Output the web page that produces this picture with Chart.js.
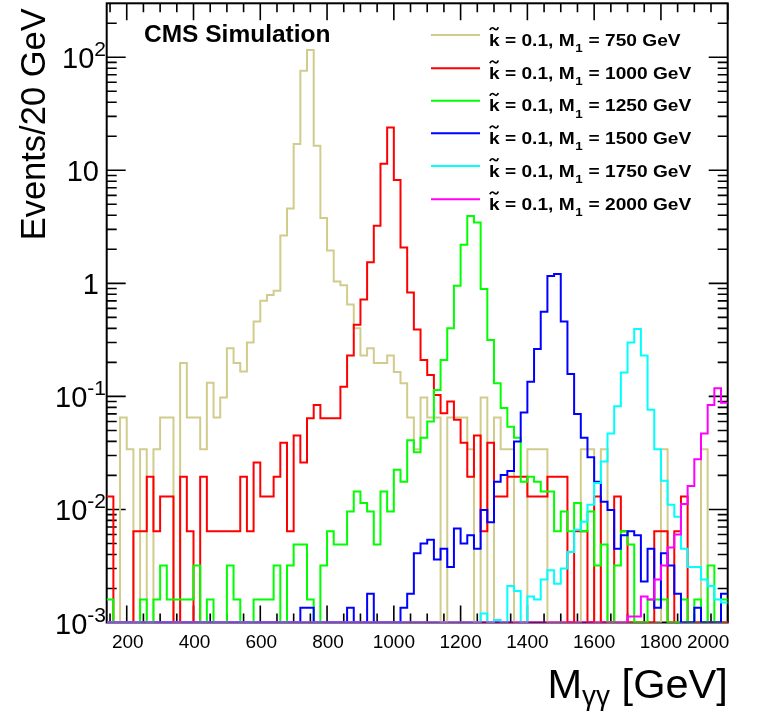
<!DOCTYPE html>
<html><head><meta charset="utf-8">
<script src="https://cdn.jsdelivr.net/npm/chart.js@4.4.0/dist/chart.umd.min.js"></script>
<style>html,body{margin:0;padding:0;background:#fff;}canvas{display:block;}</style>
</head><body>
<canvas id="c" width="761" height="713"></canvas>
<script>
// ---------------- data ----------------
const xMin = 140, xMax = 2000, binWidth = 20;
const yMin = 1e-3, yMax = 300;
const xTickValues = [200, 400, 600, 800, 1000, 1200, 1400, 1600, 1800, 2000];
const yDecades = [1e-3, 1e-2, 1e-1, 1, 10, 100];
const yTickBase = ['10', '10', '10', '1', '10', '10'];
const yTickExp  = ['-3', '-2', '-1', '', '', '2'];
const massLabels = ['750', '1000', '1250', '1500', '1750', '2000'];
const kappaLabel = '0.1';

const m750 = [0,0,0.065,0.034,0,0.034,0,0.034,0.065,0.065,
  0,0.197,0.065,0.065,0.034,0.132,0.065,0.098,0.267,0.197,
  0.166,0.30,0.46,0.70,0.79,0.86,2.65,4.6,17.1,76,
  116,16.5,3.78,1.95,1.04,0.96,0.65,0.40,0.23,0.267,
  0.197,0.197,0.23,0.164,0.131,0.065,0.034,0.098,0.065,0.065,
  0,0.065,0.065,0.065,0.034,0,0.098,0,0.065,0.034,
  0.034,0,0,0.034,0.034,0.034,0,0,0,0,
  0,0.034,0.034,0,0.034,0,0,0,0,0,
  0,0,0,0.034,0,0,0,0,0,0.034,
  0,0,0];
const m1000 = [0.013,0,0,0,0.0064,0.0064,0.0195,0.0064,0.013,0.013,
  0,0.0195,0.0064,0,0.0195,0.0064,0.0064,0.0064,0.0064,0.0064,
  0.0195,0.0064,0.026,0.013,0.013,0.0195,0.039,0.0064,0.045,0.026,
  0.064,0.084,0.064,0.064,0.064,0.122,0.23,0.43,0.72,1.54,
  3.24,11.4,23.9,8.2,2.07,0.83,0.39,0.21,0.155,0.103,
  0.071,0.090,0.062,0.039,0.0195,0.045,0.0064,0.039,0.013,0.013,
  0.0195,0.0195,0.0195,0.013,0.013,0.013,0.0195,0.0195,0.0195,0,
  0.0064,0.0064,0,0.013,0,0,0.013,0.0064,0,0,
  0,0,0.0064,0.0064,0,0.0064,0.013,0,0,0,
  0,0,0];
const m1250 = [0.0016,0,0,0,0,0.0016,0,0.0016,0.0032,0.0016,
  0.0016,0.0016,0.0016,0.0032,0,0.0016,0,0,0.0032,0.0016,
  0,0,0.0016,0.0016,0.0016,0.0032,0,0.0032,0.0049,0.0049,
  0.0016,0,0.0032,0.0064,0.0049,0.0049,0.0096,0.0144,0.0114,0.0096,
  0.0049,0.0144,0.0096,0.0224,0.0176,0.041,0.032,0.043,0.060,0.114,
  0.21,0.40,0.95,2.19,3.95,3.45,0.89,0.316,0.131,0.079,
  0.054,0.043,0.0176,0.0195,0.0176,0.0144,0.0144,0.0064,0.0096,0.0064,
  0.0114,0.0064,0.0096,0.0032,0.0049,0,0.0032,0.0064,0.0049,0,
  0,0.0016,0.0016,0.0016,0,0,0.0016,0,0.0016,0,
  0.0032,0,0.0016];
const m1500 = [0,0,0,0,0,0,0,0,0,0,
  0,0,0,0,0,0,0,0,0,0,
  0,0,0,0,0,0,0,0,0,0.00135,
  0.00135,0,0,0,0,0,0.00135,0,0,0.0018,
  0,0,0,0,0.00135,0.0018,0.0041,0.0050,0.0054,0.0036,
  0.0045,0.0031,0.0068,0.0050,0.0059,0.0045,0.0099,0.0077,0.0176,0.0202,
  0.0219,0.040,0.072,0.135,0.262,0.56,1.16,1.21,0.46,0.158,
  0.070,0.043,0.029,0.0176,0.0117,0.0099,0.0045,0.0059,0.0064,0.0059,
  0.0023,0.0045,0.00135,0.0041,0.0032,0.0018,0,0,0.00135,0,
  0,0,0.0018];
const m1750 = [0,0,0,0,0,0,0,0,0,0,
  0,0,0,0,0,0,0,0,0,0,
  0,0,0,0,0,0,0,0,0,0,
  0,0,0,0,0,0,0,0,0,0,
  0,0,0,0,0,0,0,0,0,0,
  0,0,0,0,0,0,0.0012,0,0.00105,0,
  0.0021,0.0019,0,0.0017,0.0016,0.0024,0.0029,0.0022,0.0030,0.0042,
  0.0066,0.0078,0.011,0.0171,0.0265,0.047,0.082,0.163,0.30,0.395,
  0.23,0.076,0.034,0.0179,0.011,0.0086,0.0045,0.0031,0.0031,0.0024,
  0.0021,0.0016,0.0015];
const m2000 = [0,0,0,0,0,0,0,0,0,0,
  0,0,0,0,0,0,0,0,0,0,
  0,0,0,0,0,0,0,0,0,0,
  0,0,0,0,0,0,0,0,0,0,
  0,0,0,0,0,0,0,0,0,0,
  0,0,0,0,0,0,0,0,0,0,
  0,0,0,0,0,0,0,0,0,0,
  0,0,0,0,0,0,0,0,0.00113,0.00113,
  0.0017,0.0016,0.0024,0.0032,0.0046,0.006,0.0112,0.0161,0.0278,0.047,
  0.084,0.118,0.088];

const seriesValues = [m750, m1000, m1250, m1500, m1750, m2000];
const seriesColors = ['rgb(210,204,140)', '#ff0000', '#00ff00', '#0000ff', '#00ffff', '#ff00ff'];

// ---------------- build datasets ----------------
const nBins = m750.length;
const binEdges = [];
for (let i = 0; i <= nBins; i++) binEdges.push(xMin + i * binWidth);

function histPoints(vals) {
  const pts = vals.map((v, i) => ({ x: binEdges[i], y: v > 0 ? v : yMin }));
  const last = vals[vals.length - 1];
  pts.push({ x: binEdges[vals.length], y: last > 0 ? last : yMin });
  return pts;
}

const datasets = seriesValues.map((vals, i) => ({
  label: massLabels[i],
  data: histPoints(vals),
  borderColor: seriesColors[i],
  borderWidth: 2,
  stepped: 'before',
  pointRadius: 0,
  fill: false,
  order: seriesValues.length - i
}));

const FONT = '"Liberation Sans", Arial, Helvetica, sans-serif';

const rootStyle = {
  id: 'rootStyle',
  beforeDatasetsDraw(chart) {
    const { ctx, chartArea: a, scales: { x, y } } = chart;
    ctx.save();
    ctx.strokeStyle = '#000';
    ctx.lineWidth = 1.6;
    ctx.beginPath();
    for (let v = 150; v <= xMax; v += 50) {
      const px = x.getPixelForValue(v);
      const len = xTickValues.includes(v) ? 17 : 9;
      ctx.moveTo(px, a.bottom); ctx.lineTo(px, a.bottom - len);
      ctx.moveTo(px, a.top); ctx.lineTo(px, a.top + len);
    }
    for (const d of yDecades) {
      for (let m = 1; m <= 9; m++) {
        const v = m * d;
        if (v <= yMin * 1.0001 || v >= yMax * 0.999) continue;
        const py = y.getPixelForValue(v);
        const len = m === 1 ? 19 : 10;
        ctx.moveTo(a.left, py); ctx.lineTo(a.left + len, py);
        ctx.moveTo(a.right, py); ctx.lineTo(a.right - len, py);
      }
    }
    ctx.stroke();
    ctx.lineWidth = 2;
    ctx.strokeRect(a.left, a.top, a.right - a.left, a.bottom - a.top);
    ctx.restore();
  },
  afterDraw(chart) {
    const { ctx, chartArea: a, scales: { x, y } } = chart;
    ctx.save();
    ctx.fillStyle = '#000';
    // x tick labels (ROOT-like placement)
    ctx.font = '19px ' + FONT;
    ctx.textBaseline = 'alphabetic';
    xTickValues.forEach((v, i) => {
      const s = String(v);
      const px = x.getPixelForValue(v);
      if (i === xTickValues.length - 1) {
        ctx.textAlign = 'right';
        ctx.fillText(s, a.right + 1.5, 648);
      } else {
        ctx.textAlign = 'center';
        ctx.fillText(s, px + (s.length > 3 ? 0 : 1), 648);
      }
    });
    // y tick labels
    const baseFont = '29px ' + FONT, expFont = '21px ' + FONT;
    yDecades.forEach((d, i) => {
      const py = y.getPixelForValue(d);
      ctx.textBaseline = 'alphabetic';
      if (yTickExp[i]) {
        ctx.font = expFont;
        const ew = ctx.measureText(yTickExp[i]).width;
        const right = 106;
        ctx.textAlign = 'left';
        ctx.fillText(yTickExp[i], right - ew, py - 1);
        ctx.font = baseFont;
        ctx.textAlign = 'right';
        ctx.fillText(yTickBase[i], right - ew, py + 11);
      } else {
        ctx.font = baseFont;
        ctx.textAlign = 'right';
        ctx.fillText(yTickBase[i], 99, py + 11);
      }
    });
    // y title
    ctx.save();
    ctx.translate(45, a.top + 5);
    ctx.rotate(-Math.PI / 2);
    ctx.font = '34.5px ' + FONT;
    ctx.textAlign = 'right';
    ctx.textBaseline = 'alphabetic';
    ctx.fillText('Events/20 GeV', 0, 0);
    ctx.restore();
    // x title: M_{γγ} [GeV]
    ctx.textAlign = 'left';
    ctx.textBaseline = 'alphabetic';
    const big = '41.5px ' + FONT, small = '28px ' + FONT;
    ctx.font = big; const wM = ctx.measureText('M').width;
    const wG = ctx.measureText(' [GeV]').width;
    ctx.font = small; const wS = ctx.measureText('γγ').width;
    let xs = a.right - (wM + wS + wG);
    const by = 698;
    ctx.font = big; ctx.fillText('M', xs, by); xs += wM;
    ctx.font = small; ctx.fillText('γγ', xs, by + 7); xs += wS;
    ctx.font = big; ctx.fillText(' [GeV]', xs, by);
    // CMS Simulation
    ctx.font = 'bold 24.5px ' + FONT;
    ctx.fillText('CMS Simulation', 144, 42);
    // legend
    const legY = [35, 68.3, 100.7, 133.3, 166, 199.3];
    legY.forEach((ly, i) => {
      ctx.strokeStyle = seriesColors[i];
      ctx.lineWidth = 2;
      ctx.beginPath(); ctx.moveTo(431, ly); ctx.lineTo(480, ly); ctx.stroke();
      ctx.save();
      ctx.translate(489, ly + 10.5);
      ctx.scale(1.16, 1);
      ctx.fillStyle = '#000';
      ctx.font = 'bold 16.5px ' + FONT;
      ctx.textAlign = 'left';
      let tx = 0;
      ctx.fillText('k', tx, 0);
      // tilde over k
      ctx.save();
      ctx.lineWidth = 1.6; ctx.strokeStyle = '#000';
      ctx.beginPath();
      ctx.moveTo(tx + 0.8, -15.5);
      ctx.bezierCurveTo(tx + 2, -19, tx + 3.6, -17.6, tx + 4.5, -16.8);
      ctx.bezierCurveTo(tx + 5.4, -16, tx + 6.8, -14.5, tx + 8, -18.2);
      ctx.stroke();
      ctx.restore();
      tx += ctx.measureText('k').width;
      const s1 = ' = ' + kappaLabel + ', M';
      ctx.fillText(s1, tx, 0); tx += ctx.measureText(s1).width;
      ctx.font = 'bold 11.5px ' + FONT;
      ctx.fillText('1', tx + 0.5, 6.5); tx += ctx.measureText('1').width + 1;
      ctx.font = 'bold 16.5px ' + FONT;
      ctx.fillText(' = ' + massLabels[i] + ' GeV', tx, 0);
      ctx.restore();
    });
    ctx.restore();
  }
};

new Chart(document.getElementById('c').getContext('2d'), {
  type: 'line',
  data: { datasets },
  options: {
    responsive: false,
    animation: false,
    devicePixelRatio: 1,
    layout: { padding: { left: 0, right: 33.3, top: 3.3, bottom: 0 } },
    plugins: { legend: { display: false }, tooltip: { enabled: false } },
    elements: { point: { radius: 0 }, line: { tension: 0 } },
    scales: {
      x: {
        type: 'linear', min: xMin, max: xMax,
        afterFit(s) { s.height = 90.5; },
        afterBuildTicks(s) { s.ticks = xTickValues.map(v => ({ value: v })); },
        grid: { display: false, drawTicks: false },
        border: { display: false },
        ticks: { display: false }
      },
      y: {
        type: 'logarithmic', min: yMin, max: yMax,
        afterFit(s) { s.width = 106.7; },
        grid: { display: false, drawTicks: false },
        border: { display: false },
        ticks: { display: false }
      }
    }
  },
  plugins: [rootStyle]
});
</script>
</body></html>
